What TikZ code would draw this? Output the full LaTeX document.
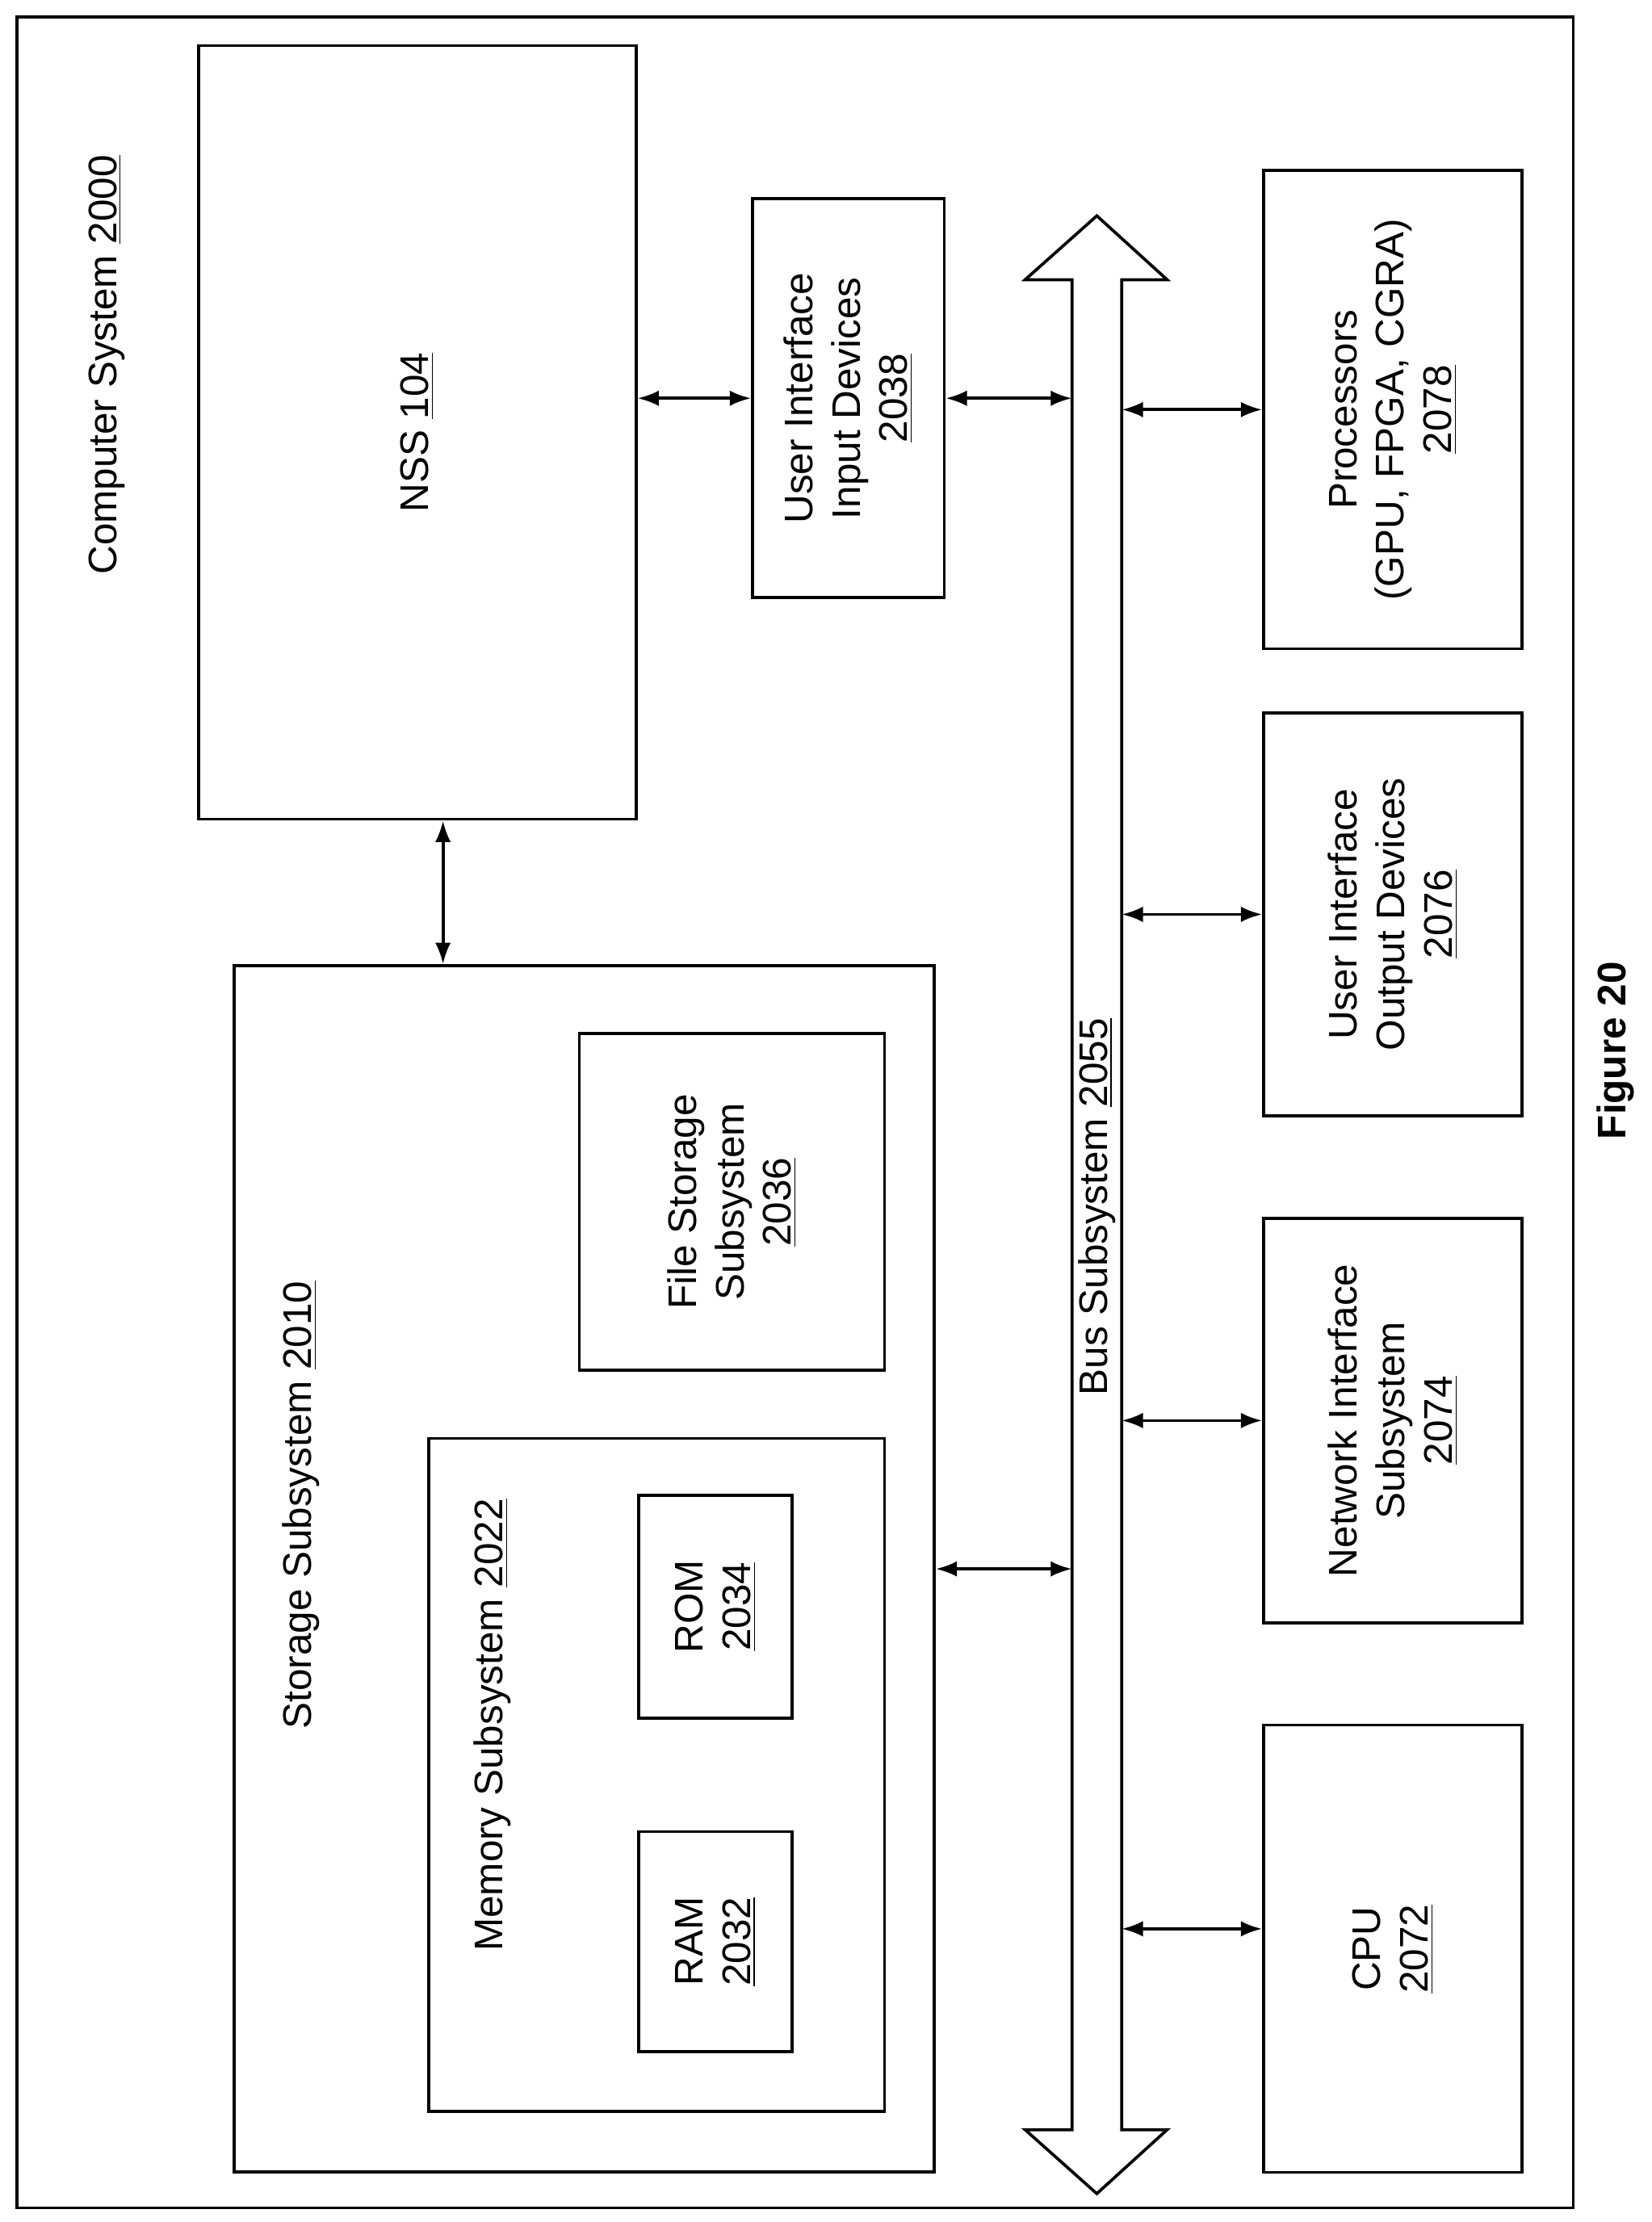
\documentclass[tikz,border=0pt]{standalone}
\usepackage{fontspec}
\setmainfont{Liberation Sans}
\usetikzlibrary{arrows.meta,positioning,calc}

\begin{document}
\begin{tikzpicture}[x=0.02cm, y=-0.02cm, >={Latex[length=0.3cm,width=0.22cm]}, line width=1.2pt,
  font=\fontsize{16}{19}\selectfont]
  \tikzstyle{box}=[rectangle, draw, rotate=90, inner sep=0pt, align=center]
  \tikzstyle{lbl}=[rotate=90, inner sep=0pt, align=center]
  \tikzstyle{link}=[<->, line width=1.2pt]
  \useasboundingbox (0,0) rectangle (1163,1565);

  % Rahmen
  \draw (12,12) rectangle (1108,1555);
  \node[lbl] (csys) at (75,257) {Computer System \underline{2000}};

  % NSS und Eingabe
  \node[box, minimum width=10.9cm, minimum height=6.16cm] (nss) at (294,304.5) {NSS \underline{104}};
  \node[box, minimum width=5.62cm, minimum height=2.7cm] (uiin) at (597.5,280.5) {User Interface\\Input Devices\\\underline{2038}};

  % Speicher
  \node[box, minimum width=17cm, minimum height=9.86cm] (store) at (411.5,1105) {};
  \node[lbl] (storelbl) at (212,1060) {Storage Subsystem \underline{2010}};
  \node[box, minimum width=9.48cm, minimum height=6.42cm] (mem) at (462.5,1250) {};
  \node[lbl] (memlbl) at (347,1215) {Memory Subsystem \underline{2022}};
  \node[box, minimum width=3.1cm, minimum height=2.16cm] (ram) at (504,1367.5) {RAM\\\underline{2032}};
  \node[box, minimum width=3.14cm, minimum height=2.16cm] (rom) at (504,1131.5) {ROM\\\underline{2034}};
  \node[box, minimum width=4.74cm, minimum height=4.3cm] (file) at (515.5,846.5) {File Storage\\Subsystem\\\underline{2036}};

  % Bus
  \draw (755,197) -- (755,1500) -- (722,1500) -- (772.5,1545) -- (822,1500) -- (790,1500)
    -- (790,197) -- (822,197) -- (772.5,152) -- (722,197) -- cycle;
  \node[lbl] (buslbl) at (772.5,850) {Bus Subsystem \underline{2055}};
  \coordinate (busL) at (755,0);
  \coordinate (busR) at (790,0);
  \coordinate (nsslink) at (312,0);

  % Peripherie
  \node[box, minimum width=6.74cm, minimum height=3.64cm] (proc) at (981,288.5) {Processors\\(GPU, FPGA, CGRA)\\\underline{2078}};
  \node[box, minimum width=5.68cm, minimum height=3.64cm] (uiout) at (981,644) {User Interface\\Output Devices\\\underline{2076}};
  \node[box, minimum width=5.7cm, minimum height=3.64cm] (net) at (981,1000.5) {Network Interface\\Subsystem\\\underline{2074}};
  \node[box, minimum width=6.3cm, minimum height=3.64cm] (cpu) at (981,1372.5) {CPU\\\underline{2072}};

  % Verbindungen
  \draw[link] (nss.south |- uiin.center) -- (uiin.north);
  \draw[link] (uiin.south) -- (uiin.south -| busL);
  \draw[link] (nsslink |- nss.west) -- (nsslink |- store.east);
  \draw[link] (store.south) -- (store.south -| busL);
  \draw[link] (proc.north -| busR) -- (proc.north);
  \draw[link] (uiout.north -| busR) -- (uiout.north);
  \draw[link] (net.north -| busR) -- (net.north);
  \draw[link] ([yshift=0.28cm]cpu.north -| busR) -- ([yshift=0.28cm]cpu.north);

  \node[lbl, font=\fontsize{16}{19}\selectfont\bfseries] (fig) at (1138,740) {Figure 20};
\end{tikzpicture}
\end{document}
